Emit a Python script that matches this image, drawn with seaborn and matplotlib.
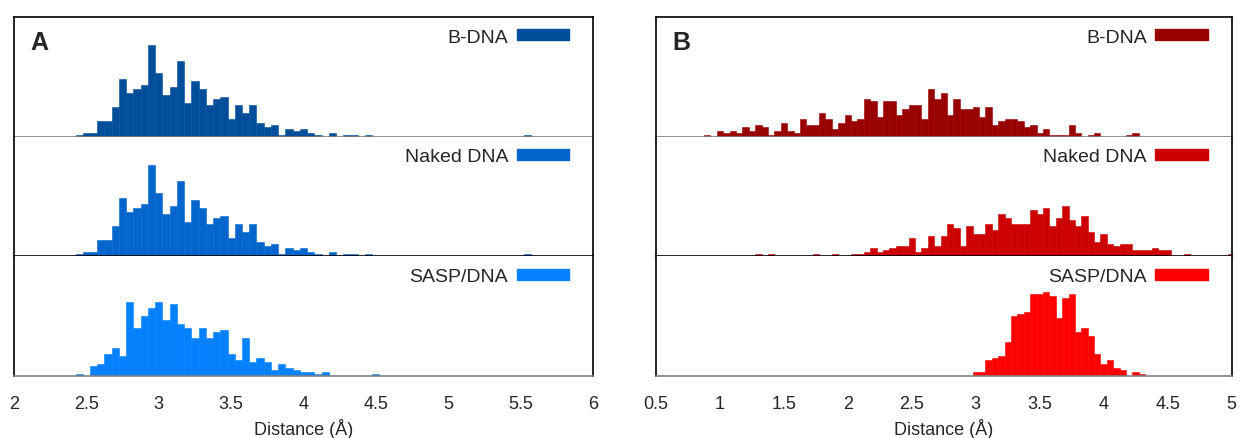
import matplotlib
matplotlib.use("Agg")
import matplotlib.pyplot as plt
from matplotlib.patches import Patch
from matplotlib.ticker import FormatStrFormatter
import numpy as np
import seaborn as sns

sns.set_style("white")
plt.rcParams['font.family'] = ['Liberation Sans', 'DejaVu Sans']

###################################
# histogram counts, 0.05 A bins; first value is centred on *_start
bin_width = 0.05

labels = ["B-DNA", "Naked DNA", "SASP/DNA"]
blues = ["#034e9b", "#0466cc", "#0580ff"]
reds = ["#990000", "#cc0000", "#ff0000"]

a_bdna_start = 2.45
a_bdna = [1, 2, 2, 8, 8, 15, 29, 22, 24, 26, 46, 32, 21, 25, 38, 17, 28, 24, 16, 19,
          20, 9, 16, 12, 16, 7, 5, 6, 1, 4, 3, 4, 2, 1, 0, 2, 0, 1, 1, 0, 1,
          0, 0, 0, 0, 0, 0, 0, 0, 0, 0, 0, 0, 0, 0, 0, 0, 0, 0, 0, 0, 0, 1]

a_naked_start = 2.45
a_naked = [1, 2, 2, 8, 8, 15, 29, 22, 24, 26, 46, 32, 21, 25, 38, 17, 28, 24, 16, 19,
           20, 9, 16, 12, 16, 7, 5, 6, 1, 4, 3, 4, 2, 1, 0, 2, 0, 1, 1, 0, 1,
           0, 0, 0, 0, 0, 0, 0, 0, 0, 0, 0, 0, 0, 0, 0, 0, 0, 0, 0, 0, 0, 1]

a_sasp_start = 2.45
a_sasp = [1, 0, 5, 6, 11, 14, 10, 37, 24, 30, 34, 37, 28, 36, 26, 24, 19, 24, 19, 22,
          23, 11, 8, 19, 7, 9, 7, 3, 6, 4, 3, 2, 2, 1, 2, 0, 0, 0, 0, 0, 0, 1]

b_bdna_start = 0.90
b_bdna = [1, 0, 3, 2, 3, 2, 5, 3, 6, 5, 1, 3, 7, 3, 2, 9, 6, 6, 12, 9,
          4, 7, 11, 8, 9, 19, 18, 10, 18, 18, 11, 14, 16, 16, 9, 24, 19, 22, 11, 19,
          14, 14, 15, 10, 15, 6, 8, 9, 9, 8, 5, 6, 2, 4, 1, 1, 1, 6, 2, 0,
          1, 2, 0, 0, 0, 0, 1, 2]

b_naked_start = 1.30
b_naked = [1, 0, 1, 0, 0, 0, 0, 0, 0, 1, 0, 0, 1, 0, 0, 1, 1, 2, 4, 2,
           3, 4, 5, 5, 9, 2, 4, 10, 5, 10, 16, 14, 5, 15, 11, 11, 16, 13, 21, 19,
           16, 16, 16, 23, 21, 24, 15, 19, 25, 18, 15, 20, 12, 7, 11, 6, 5, 6, 6, 3,
           3, 3, 4, 3, 3, 0, 0, 1, 0, 0, 0, 0, 0, 0, 1]

b_sasp_start = 3.00
b_sasp = [2, 2, 8, 9, 10, 17, 30, 31, 32, 41, 41, 42, 40, 29, 39, 41, 22, 24, 20, 11,
          6, 8, 4, 3, 0, 2, 1]

a_ticks = [2, 2.5, 3, 3.5, 4, 4.5, 5, 5.5, 6]
b_ticks = [0.5, 1, 1.5, 2, 2.5, 3, 3.5, 4, 4.5, 5]
####################################

panels = [
    ("A", [(a_bdna_start, a_bdna), (a_naked_start, a_naked), (a_sasp_start, a_sasp)],
     blues, (2, 6), a_ticks, 14),
    ("B", [(b_bdna_start, b_bdna), (b_naked_start, b_naked), (b_sasp_start, b_sasp)],
     reds, (0.5, 5), b_ticks, 656),
]
panel_w = {"A": 579, "B": 575.6}

W, H = 1241, 439
fig = plt.figure(figsize=(W / 100, H / 100), dpi=100)

top_px, bot_px = 18, 377
row_h = (bot_px - top_px) / 3

for name, series, colors, xlim, ticks, left_px in panels:
    for i, ((start, counts), color, lab) in enumerate(zip(series, colors, labels)):
        y0 = top_px + row_h * (i + 1)
        ax = fig.add_axes([left_px / W, 1 - y0 / H, panel_w[name] / W, row_h / H])
        counts = np.array(counts, dtype=float)
        centers = start + bin_width * np.arange(len(counts))
        lo = centers[0] - bin_width / 2
        hi = centers[-1] + bin_width / 2
        sns.histplot(x=centers, weights=counts, binwidth=bin_width, binrange=(lo, hi),
                     ax=ax, color=color, alpha=1, element="bars",
                     edgecolor=color, linewidth=0.4)
        ax.set_xlim(*xlim)
        ax.set_ylim(0, 60)
        ax.set_yticks([])
        ax.set_ylabel("")
        ax.set_xlabel("")
        ax.set_xticks(ticks)
        for s in ax.spines.values():
            s.set_color("black")
            s.set_linewidth(1.2)
        if i > 0:
            ax.spines["top"].set_visible(False)
        ax.spines["bottom"].set_color("#808080" if i != 1 else "black")
        if i < 2:
            ax.tick_params(axis="x", length=0, labelbottom=False)
        else:
            ax.tick_params(axis="x", length=0, pad=14, labelsize=13)
            ax.xaxis.set_major_formatter(FormatStrFormatter("%g"))
            ax.set_xlabel("Distance (Å)", fontsize=13, labelpad=4)
        ax.legend(handles=[Patch(facecolor=color, edgecolor=color, label=lab)],
                  loc="upper right", frameon=False, markerfirst=False,
                  fontsize=14, handlelength=2.7, handleheight=0.5,
                  handletextpad=0.45, borderaxespad=0.3,
                  bbox_to_anchor=(1 - 10 / panel_w[name], 1.0 + 2 / row_h))
        if i == 0:
            ax.text(16 / panel_w[name], 1 - 25 / row_h, name, transform=ax.transAxes,
                    fontsize=18, fontweight="bold", va="center", ha="left")

plt.savefig("out.png", dpi=100)
